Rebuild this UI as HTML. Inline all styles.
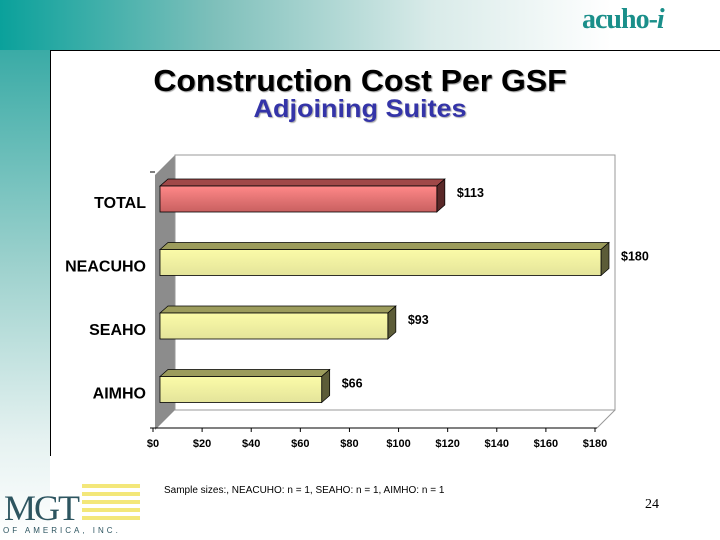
<!DOCTYPE html>
<html><head><meta charset="utf-8"><style>
body{margin:0;width:720px;height:540px;overflow:hidden;background:#fff;font-family:"Liberation Sans",sans-serif;position:relative}
.abs{position:absolute}
</style></head><body>
<div class="abs" style="left:0;top:0;width:720px;height:50px;background:linear-gradient(90deg,#0aa19b 0%,#7fc0bb 30%,#d9ebe9 60%,#fff 85%)"></div>
<div class="abs" style="left:0;top:50px;width:50px;height:490px;background:linear-gradient(180deg,#3aaba6 0%,#9fd2ce 45%,#e6f2f1 80%,#fff 100%)"></div>
<div class="abs" style="left:50px;top:50px;width:670px;height:405px;background:#fff;border-top:1px solid #000;border-left:1px solid #000"></div>
<div class="abs" style="left:582px;top:4px;font-family:'Liberation Serif',serif;font-weight:bold;font-size:28px;color:#1a8f8a;letter-spacing:-1px">acuho-<i>i</i></div>
<div class="abs" style="left:0;width:720px;top:63px;text-align:center;font-size:31px;font-weight:bold;color:#000;text-shadow:1px 1px 1px #999;transform:scaleX(1.03)">Construction Cost Per GSF</div>
<div class="abs" style="left:0;width:720px;top:95px;text-align:center;font-size:25px;font-weight:bold;color:#3434a8;text-shadow:1px 1px 1px #aaa;transform:scaleX(1.08)">Adjoining Suites</div>
<svg class="abs" style="left:0;top:0" width="720" height="540">
<defs>
<linearGradient id="gr" x1="0" y1="0" x2="0" y2="1"><stop offset="0" stop-color="#f88"/><stop offset="1" stop-color="#c86060"/></linearGradient>
<linearGradient id="gy" x1="0" y1="0" x2="0" y2="1"><stop offset="0" stop-color="#fbfba8"/><stop offset="1" stop-color="#e4e49a"/></linearGradient>
</defs>
<g id="frame"></g><g id="bars"></g><g id="ticks"></g>
</svg>
<div class="abs" style="left:164px;top:485px;font-size:10px;color:#000">Sample sizes:, NEACUHO: n = 1, SEAHO: n = 1, AIMHO: n = 1</div>
<div class="abs" style="left:645px;top:497px;font-family:'Liberation Serif',serif;font-size:14px">24</div>
<div class="abs" style="left:82px;top:484px;width:58px;height:40px;background:repeating-linear-gradient(180deg,#f3e77a 0 4px,#fff 4px 8px)"></div>
<div class="abs" style="left:4px;top:488px;font-family:'Liberation Serif',serif;font-size:36px;line-height:40px;color:#2d5560;letter-spacing:-2px">MGT</div>
<div class="abs" style="left:3px;top:526px;font-size:8px;color:#2d5560;letter-spacing:3px">OF AMERICA, INC.</div>
<script>
const categories=["TOTAL","NEACUHO","SEAHO","AIMHO"];
const values=[113,180,93,66];
const tickValues=[0,20,40,60,80,100,120,140,160,180];
const tickLabels=["$0","$20","$40","$60","$80","$100","$120","$140","$160","$180"];
const NS="http://www.w3.org/2000/svg";
function mk(t,a,p){const e=document.createElementNS(NS,t);for(const k in a)e.setAttribute(k,a[k]);p.appendChild(e);return e;}
const x0=160,sc=441/180,dx=8,dy=7;
const xb=v=>x0+v*sc;
const xt=v=>153+v*(442/180);
const yb=i=>186+i*63.5;
const bh=26;
const F=document.getElementById('frame'),B=document.getElementById('bars'),T=document.getElementById('ticks');
let e=mk('polygon',{points:"155,175 175,155 175,410 155,430",fill:"#8c8c8c"},F);

e=mk('rect',{x:175,y:155,width:440,height:255,fill:"#fff",stroke:"#999"},F);

e=mk('polyline',{points:"597,428 615,410",fill:"none",stroke:"#999"},F);

e=mk('line',{x1:150,y1:428,x2:597,y2:428,stroke:"#000"},F);

e=mk('line',{x1:150,y1:172,x2:155,y2:172,stroke:"#000"},F);

tickValues.forEach((v,i)=>{
  const x=xt(v);
  let l=mk('line',{x1:x,y1:428,x2:x,y2:432,stroke:"#000"},T);
  
  let t=mk('text',{x:x,y:447,'text-anchor':'middle','font-size':11,'font-weight':'bold','font-family':'Liberation Sans, sans-serif'},T);
  t.textContent=tickLabels[i];
  
});
categories.forEach((c,i)=>{
  const y=yb(i),x1=xb(values[i]),red=i===0;
  const g=mk('g',{},B);
  
  mk('polygon',{points:`${x0},${y} ${x0+dx},${y-dy} ${x1+dx},${y-dy} ${x1},${y}`,fill:red?"#a04848":"#9c9c5c",stroke:"#000","stroke-width":0.7},g);
  mk('polygon',{points:`${x1},${y} ${x1+dx},${y-dy} ${x1+dx},${y+bh-dy} ${x1},${y+bh}`,fill:red?"#5a2828":"#5c5c38",stroke:"#000","stroke-width":0.7},g);
  mk('rect',{x:x0,y:y,width:x1-x0,height:bh,fill:red?"url(#gr)":"url(#gy)",stroke:"#000","stroke-width":0.8},g);
  let t=mk('text',{x:x1+dx+12,y:y+11,'font-size':12.5,'font-weight':'bold','font-family':'Liberation Sans, sans-serif'},B);
  t.textContent="$"+values[i];
  
  t=mk('text',{x:146,y:y+22,'text-anchor':'end','font-size':16,'font-weight':'bold','font-family':'Liberation Sans, sans-serif'},B);
  t.textContent=c;
  
});
</script>
</body></html>
